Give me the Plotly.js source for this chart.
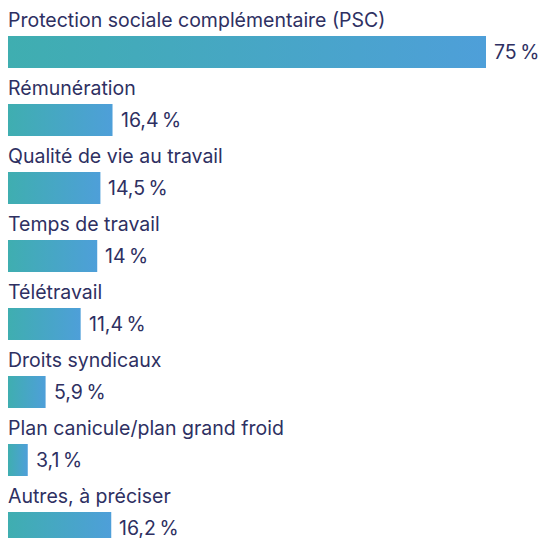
<!DOCTYPE html>
<html>
<head>
<meta charset="utf-8">
<script src="https://cdn.plot.ly/plotly-3.0.1.min.js"></script>
<style>html,body{margin:0;padding:0;background:#fff;}#chart{width:542px;height:538px;}</style>
</head>
<body>
<div id="chart"></div>
<script>
const categories = [
  "Protection sociale complémentaire (PSC)",
  "Rémunération",
  "Qualité de vie au travail",
  "Temps de travail",
  "Télétravail",
  "Droits syndicaux",
  "Plan canicule/plan grand froid",
  "Autres, à préciser"
];
const values = [75, 16.4, 14.5, 14, 11.4, 5.9, 3.1, 16.2];
const valueLabels = ["75\u202F%", "16,4\u202F%", "14,5\u202F%", "14\u202F%", "11,4\u202F%", "5,9\u202F%", "3,1\u202F%", "16,2\u202F%"];

const W = 542, H = 538;
const marginL = 8;
const pxPerUnit = 478 / 75;
const rowPx = 68, firstCenterPx = 52, barPx = 32;
const half = barPx / rowPx / 2;
const yTop = -firstCenterPx / rowPx;
const yBottom = yTop + H / rowPx;
const textColor = "#2E3062";
const font = "Inter, 'Open Sans', sans-serif";

const traces = values.map((v, i) => ({
  type: "scatter",
  mode: "lines",
  x: [0, v, v, 0, 0],
  y: [i - half, i - half, i + half, i + half, i - half],
  fill: "toself",
  fillgradient: {type: "horizontal", colorscale: [[0, "#3FAEB0"], [1, "#4E9FD9"]]},
  line: {width: 0, color: "rgba(0,0,0,0)"},
  hoverinfo: "skip",
  showlegend: false
}));

const annotations = [];
categories.forEach((c, i) => {
  annotations.push({
    x: 0, y: i, xref: "x", yref: "y",
    text: c, showarrow: false, xanchor: "left", yanchor: "middle",
    yshift: 32, xshift: -2,
    font: {family: font, size: 19.5, color: textColor}
  });
  annotations.push({
    x: values[i], y: i, xref: "x", yref: "y",
    text: valueLabels[i], showarrow: false, xanchor: "left", yanchor: "middle",
    xshift: 7, borderpad: 0,
    font: {family: font, size: 19.5, color: textColor}
  });
});

const layout = {
  width: W, height: H,
  margin: {l: marginL, r: 0, t: 0, b: 0},
  paper_bgcolor: "#fff", plot_bgcolor: "#fff",
  xaxis: {range: [0, (W - marginL) / pxPerUnit], visible: false, fixedrange: true},
  yaxis: {range: [yBottom, yTop], visible: false, fixedrange: true},
  annotations: annotations,
  showlegend: false
};

Plotly.newPlot("chart", traces, layout, {displayModeBar: false, staticPlot: true});
</script>
</body>
</html>
